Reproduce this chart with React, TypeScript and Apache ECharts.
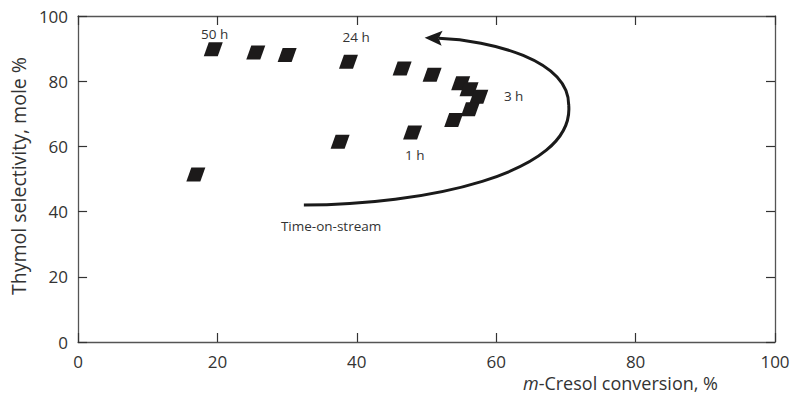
import React, { useEffect, useRef } from "react";
import * as echarts from "echarts";

const conversion = [19.4, 25.5, 30.0, 38.8, 46.5, 50.8, 54.9, 56.1, 57.5, 56.3, 53.9, 48.0, 37.6, 16.9];
const selectivity = [89.8, 88.8, 88.0, 86.0, 83.9, 82.0, 79.4, 77.5, 75.2, 71.4, 68.1, 64.3, 61.4, 51.4];
const xTicks = [0, 20, 40, 60, 80, 100];
const yTicks = [0, 20, 40, 60, 80, 100];
const annotations = [
  { text: "50 h", x: 19.6, y: 94.5 },
  { text: "24 h", x: 39.9, y: 93.6 },
  { text: "3 h", x: 62.5, y: 75.6 },
  { text: "1 h", x: 48.3, y: 57.3 },
  { text: "Time-on-stream", x: 36.3, y: 35.5 },
];
// arrow path in data coordinates: [start, c1, c2, mid, c3, c4, tip]
const arrowPts = [
  [32.4, 42.0], [49.1, 42.0], [71.3, 51.2], [70.4, 72.7],
  [70.4, 86.5], [59.2, 92.6], [50.3, 93.3],
];

const FONT = "'Open Sans', sans-serif";

export default function App() {
  const ref = useRef<HTMLDivElement>(null);
  useEffect(() => {
    const chart = echarts.init(ref.current!, undefined, { renderer: "svg" });
    const axisLine = { show: true, onZero: false, lineStyle: { color: "#555", width: 1.3 } };
    const axisTick = { show: true, inside: true, length: 9, lineStyle: { color: "#333", width: 1.2 } };
    const label = { color: "#333", fontSize: 17, fontFamily: FONT };
    chart.setOption({
      animation: false,
      backgroundColor: "#fff",
      grid: { left: 77, top: 16, right: 19, bottom: 54, containLabel: false },
      xAxis: [
        {
          type: "value", min: 0, max: 100, interval: 20, position: "bottom",
          axisLine, axisTick, splitLine: { show: false },
          axisLabel: { ...label, margin: 11, formatter: (v: number) => (xTicks.includes(v) ? String(v) : "") },
          name: "{i|m}-Cresol conversion, %",
          nameLocation: "end",
          nameGap: 0,
          nameTextStyle: {
            ...label, fontSize: 18, align: "right", verticalAlign: "top",
            padding: [32, 57, 0, 0],
            rich: { i: { fontStyle: "italic", fontSize: 18, fontFamily: FONT, color: "#333" } },
          },
        },
        {
          type: "value", min: 0, max: 100, interval: 20, position: "top",
          axisLine, axisTick, axisLabel: { show: false }, splitLine: { show: false },
        },
      ],
      yAxis: [
        {
          type: "value", min: 0, max: 100, interval: 20, position: "left",
          axisLine, axisTick, splitLine: { show: false },
          axisLabel: { ...label, margin: 10, formatter: (v: number) => (yTicks.includes(v) ? String(v) : "") },
          name: "Thymol selectivity, mole %",
          nameLocation: "middle",
          nameGap: 50,
          nameTextStyle: { ...label, fontSize: 19.5, padding: [0, 0, 0, 6] },
        },
        {
          type: "value", min: 0, max: 100, interval: 20, position: "right",
          axisLine, axisTick, axisLabel: { show: false }, splitLine: { show: false },
        },
      ],
      series: [
        {
          type: "scatter",
          symbol: "path://M5,0 L19,0 L14,14 L0,14 Z",
          symbolSize: [19, 14],
          itemStyle: { color: "#1c1a1a", opacity: 1 },
          data: conversion.map((c, i) => [c, selectivity[i]]),
        },
      ],
    });

    const px = (p: number[]) => chart.convertToPixel({ gridIndex: 0 }, p) as number[];
    const P = arrowPts.map(px);
    const tip = P[6];
    chart.setOption({
      graphic: [
        {
          type: "bezierCurve",
          shape: { x1: P[0][0], y1: P[0][1], cpx1: P[1][0], cpy1: P[1][1], cpx2: P[2][0], cpy2: P[2][1], x2: P[3][0], y2: P[3][1] },
          style: { stroke: "#1a1a1a", lineWidth: 3, fill: null },
          silent: true,
        },
        {
          type: "bezierCurve",
          shape: { x1: P[3][0], y1: P[3][1], cpx1: P[4][0], cpy1: P[4][1], cpx2: P[5][0], cpy2: P[5][1], x2: tip[0] + 10, y2: tip[1] + 0.5 },
          style: { stroke: "#1a1a1a", lineWidth: 3, fill: null },
          silent: true,
        },
        {
          type: "polygon",
          shape: { points: [[tip[0] - 4, tip[1]], [tip[0] + 14, tip[1] - 7], [tip[0] + 10, tip[1] + 0.5], [tip[0] + 13, tip[1] + 8]] },
          style: { fill: "#1a1a1a" },
          silent: true,
        },
        ...annotations.map((a) => {
          const p = px([a.x, a.y]);
          return {
            type: "text",
            x: p[0], y: p[1],
            silent: true,
            style: { text: a.text, fill: "#333", fontSize: 13.5, fontFamily: FONT, align: "center", verticalAlign: "middle" },
          };
        }),
      ],
    });
    return () => chart.dispose();
  }, []);
  return <div ref={ref} style={{ position: "fixed", left: 0, top: 0, width: 794, height: 396 }} />;
}
